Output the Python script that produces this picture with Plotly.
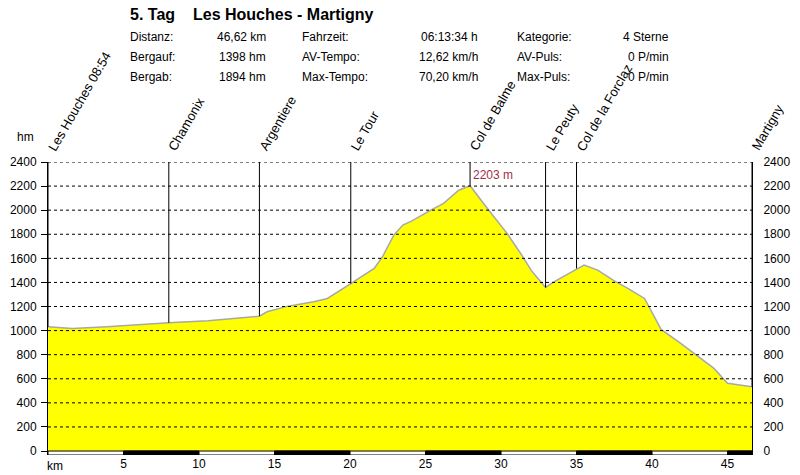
import plotly.graph_objects as go

# ---------------- data ----------------
km = [0, 1.6, 3.9, 6.0, 8.0, 10.6, 12.8, 14.0, 14.5, 15.9, 17.6, 18.5, 20.05, 21.6,
      22.15, 22.9, 23.5, 24.1, 25.35, 26.2, 27.2, 27.95, 29.1, 30.4, 31.3, 32.0,
      32.95, 33.5, 35.1, 35.5, 36.4, 37.5, 38.4, 39.5, 39.8, 40.25, 40.6, 41.9,
      42.8, 44.1, 45.0, 45.9, 46.62]
elev = [1031, 1018, 1031, 1050, 1065, 1081, 1110, 1120, 1156, 1203, 1239, 1267, 1391,
        1516, 1613, 1793, 1876, 1911, 2000, 2056, 2166, 2203, 2014, 1807, 1640, 1500,
        1358, 1405, 1516, 1544, 1502, 1413, 1350, 1267, 1198, 1087, 1010, 894, 811,
        686, 562, 548, 534]

wp_names = ["Les Houches 08:54", "Chamonix", "Argentiere", "Le Tour", "Col de Balme",
            "Le Peuty", "Col de la Forclaz", "Martigny"]
wp_km = [0, 8.0, 14.0, 20.05, 27.95, 32.95, 35.0, 46.62]
wp_elev = [1031, 1065, 1120, 1391, 2203, 1358, 1516, 534]

peak_km = 27.95
peak_label = "2203 m"

y_ticks = [0, 200, 400, 600, 800, 1000, 1200, 1400, 1600, 1800, 2000, 2200, 2400]
x_ticks = [5, 10, 15, 20, 25, 30, 35, 40, 45]
km_max = 46.62

title_a = "5. Tag"
title_b = "Les Houches - Martigny"
stat_labels_1 = ["Distanz:", "Bergauf:", "Bergab:"]
stat_values_1 = ["46,62 km", "1398 hm", "1894 hm"]
stat_labels_2 = ["Fahrzeit:", "AV-Tempo:", "Max-Tempo:"]
stat_values_2 = ["06:13:34 h", "12,62 km/h", "70,20 km/h"]
stat_labels_3 = ["Kategorie:", "AV-Puls:", "Max-Puls:"]
stat_values_3 = ["4 Sterne", "0 P/min", "0 P/min"]

# ---------------- layout helpers ----------------
W, H = 800, 475
ML, MR, MT, MB = 48, 48, 162, 20
PW, PH = W - ML - MR, H - MT - MB
FONT = "Arial, Liberation Sans, sans-serif"
Y_BOTTOM = -33


def px(x):
    return (x - ML) / PW


def py(y):
    return (H - MB - y) / PH


fig = go.Figure()

fig.add_trace(go.Scatter(
    x=km, y=elev, mode="lines", fill="tozeroy", fillcolor="#ffff00",
    line=dict(color="#a8a8a8", width=1.5), hoverinfo="skip", showlegend=False))

# waypoint vertical lines
lx, ly = [], []
for k, e in zip(wp_km, wp_elev):
    lx += [k, k, None]
    ly += [e, y_ticks[-1], None]
fig.add_trace(go.Scatter(x=lx, y=ly, mode="lines", line=dict(color="black", width=1),
                         hoverinfo="skip", showlegend=False))

# invisible trace for right axis
fig.add_trace(go.Scatter(x=km, y=elev, mode="lines", line=dict(width=0), yaxis="y2",
                         hoverinfo="skip", showlegend=False))

shapes = []
# dashed gridlines (above fill)
for v in y_ticks[1:]:
    shapes.append(dict(type="line", xref="x", yref="y", x0=0, x1=km_max, y0=v, y1=v,
                       line=dict(color="black", width=1, dash="3px,3px"), layer="above"))
# km bar at bottom
shapes.append(dict(type="rect", xref="x", yref="y", x0=0, x1=km_max, y0=Y_BOTTOM, y1=0,
                   fillcolor="white", line=dict(color="black", width=1), layer="above"))
bounds = [0] + x_ticks + [km_max]
for i in range(len(bounds) - 1):
    if i % 2 == 1:
        shapes.append(dict(type="rect", xref="x", yref="y", x0=bounds[i], x1=bounds[i + 1],
                           y0=Y_BOTTOM, y1=0, fillcolor="black",
                           line=dict(color="black", width=1), layer="above"))

ann = []
# waypoint labels
for name, k in zip(wp_names, wp_km):
    ann.append(dict(text=name, x=k, xref="x", y=1, yref="paper", xanchor="left",
                    yanchor="bottom", textangle=-60, showarrow=False, xshift=-6, yshift=6,
                    font=dict(family=FONT, size=13, color="black")))
# peak label
ann.append(dict(text=peak_label, x=peak_km, xref="x", y=2290, yref="y", xanchor="left",
                yanchor="middle", xshift=1, showarrow=False,
                font=dict(family=FONT, size=12, color="#a0304a")))
# hm / km
ann.append(dict(text="hm", x=px(25), xref="paper", y=py(137), yref="paper",
                xanchor="center", yanchor="middle", showarrow=False,
                font=dict(family=FONT, size=12, color="black")))
ann.append(dict(text="km", x=px(55), xref="paper", y=py(466), yref="paper",
                xanchor="center", yanchor="middle", showarrow=False,
                font=dict(family=FONT, size=12, color="black")))
# title
ann.append(dict(text="<b>" + title_a + "</b>", x=px(128), xref="paper", y=py(14), yref="paper",
                xanchor="left", yanchor="middle", showarrow=False,
                font=dict(family=FONT, size=16, color="black")))
ann.append(dict(text="<b>" + title_b + "</b>", x=px(191), xref="paper", y=py(14), yref="paper",
                xanchor="left", yanchor="middle", showarrow=False,
                font=dict(family=FONT, size=16, color="black")))
# stats table
rows_y = [37, 57, 77]
cols = [(stat_labels_1, stat_values_1, 128, 268),
        (stat_labels_2, stat_values_2, 300, 480),
        (stat_labels_3, stat_values_3, 515, 671)]
for labels, values, lx0, vx1 in cols:
    for lab, val, ry in zip(labels, values, rows_y):
        ann.append(dict(text=lab, x=px(lx0), xref="paper", y=py(ry), yref="paper",
                        xanchor="left", yanchor="middle", showarrow=False,
                        font=dict(family=FONT, size=12, color="black")))
        ann.append(dict(text=val, x=px(vx1), xref="paper", y=py(ry), yref="paper",
                        xanchor="right", yanchor="middle", showarrow=False,
                        font=dict(family=FONT, size=12, color="black")))

fig.update_layout(
    width=W, height=H,
    margin=dict(l=ML, r=MR, t=MT, b=MB, pad=0, autoexpand=False),
    paper_bgcolor="white", plot_bgcolor="white",
    showlegend=False,
    xaxis=dict(range=[0, km_max], tickvals=x_ticks, ticks="", showgrid=False,
               zeroline=False, showline=False, fixedrange=True, automargin=False,
               tickfont=dict(family=FONT, size=12, color="black")),
    yaxis=dict(range=[Y_BOTTOM, y_ticks[-1]], tickvals=y_ticks, ticks="outside", ticklen=6,
               tickcolor="black", showgrid=False, zeroline=False, showline=True,
               linecolor="black", linewidth=1, ticklabelstandoff=2, automargin=False,
               tickfont=dict(family=FONT, size=12, color="black")),
    yaxis2=dict(range=[Y_BOTTOM, y_ticks[-1]], tickvals=y_ticks, overlaying="y", side="right",
                ticks="", showgrid=False, zeroline=False, showline=True, automargin=False,
                linecolor="black", linewidth=1, ticklabelstandoff=8,
                tickfont=dict(family=FONT, size=12, color="black")),
    shapes=shapes,
    annotations=ann,
)

fig.write_html("out.html", config={"displayModeBar": False})
